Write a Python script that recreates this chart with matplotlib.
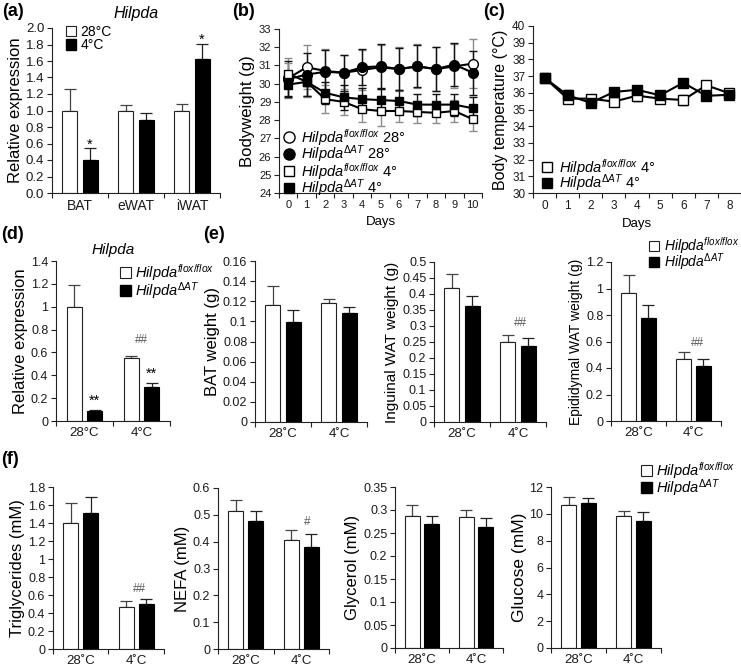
import matplotlib
matplotlib.use('Agg')
import matplotlib.pyplot as plt
from matplotlib.patches import Patch
from matplotlib.lines import Line2D
import numpy as np

plt.rcParams['font.family'] = ['Liberation Sans', 'DejaVu Sans']
plt.rcParams['mathtext.fontset'] = 'custom'
plt.rcParams['mathtext.rm'] = 'Liberation Sans'
plt.rcParams['mathtext.it'] = 'Liberation Sans:italic'
plt.rcParams['mathtext.bf'] = 'Liberation Sans:bold'

# ---- data ----
# (a) Hilpda expression, 28C vs 4C
tissues = ['BAT', 'eWAT', 'iWAT']
a_28 = [1.0, 1.0, 1.0]
a_28_err = [0.26, 0.07, 0.08]
a_4 = [0.40, 0.89, 1.62]
a_4_err = [0.14, 0.08, 0.19]
a_sig = ['*', '', '*']

# (b) bodyweight
days_b = list(range(11))
bw_flox28 = [30.3, 30.9, 30.7, 30.6, 30.75, 30.9, 30.8, 30.95, 30.8, 30.95, 31.1]
bw_dat28 = [30.25, 30.5, 30.65, 30.6, 30.9, 30.95, 30.8, 30.95, 30.8, 31.05, 30.6]
bw_flox4 = [30.55, 30.1, 29.15, 29.0, 28.6, 28.5, 28.5, 28.45, 28.4, 28.5, 28.05]
bw_dat4 = [29.95, 30.1, 29.5, 29.25, 29.15, 29.1, 29.05, 28.85, 28.85, 28.85, 28.65]
bw_flox28_err = [1.1, 1.2, 1.2, 1.0, 1.1, 1.2, 1.2, 1.2, 1.2, 1.2, 1.35]
bw_dat28_err = [1.0, 1.2, 1.2, 1.0, 1.0, 1.2, 1.15, 1.15, 1.2, 1.2, 1.2]
bw_flox4_err = [0.6, 0.85, 0.75, 0.7, 0.7, 0.8, 0.6, 0.6, 0.55, 0.6, 0.65]
bw_dat4_err = [0.6, 0.8, 0.6, 0.7, 0.6, 0.6, 0.6, 0.6, 0.6, 0.6, 0.6]

# (c) body temperature
days_c = list(range(9))
t_flox4 = [36.9, 35.65, 35.65, 35.47, 35.83, 35.65, 35.57, 36.45, 35.97]
t_dat4 = [36.9, 35.85, 35.4, 36.05, 36.18, 35.85, 36.6, 35.82, 35.88]
t_flox4_err = [0.1, 0.25, 0.1, 0.15, 0.35, 0.25, 0.3, 0.1, 0.1]
t_dat4_err = [0.1, 0.3, 0.1, 0.15, 0.1, 0.15, 0.1, 0.1, 0.1]

temps_d = ['28°C', '4°C']
temps = ['28˚C', '4˚C']

# (d) Hilpda expression
d_flox = [1.0, 0.55]
d_flox_err = [0.19, 0.02]
d_dat = [0.09, 0.30]
d_dat_err = [0.005, 0.03]

# (e) tissue weights
bat_flox = [0.116, 0.118]
bat_flox_err = [0.019, 0.004]
bat_dat = [0.099, 0.108]
bat_dat_err = [0.012, 0.006]
ing_flox = [0.42, 0.25]
ing_flox_err = [0.043, 0.022]
ing_dat = [0.362, 0.237]
ing_dat_err = [0.031, 0.027]
epi_flox = [0.965, 0.465]
epi_flox_err = [0.135, 0.055]
epi_dat = [0.775, 0.415]
epi_dat_err = [0.10, 0.05]

# (f) plasma
tg_flox = [1.40, 0.47]
tg_flox_err = [0.22, 0.065]
tg_dat = [1.51, 0.505]
tg_dat_err = [0.18, 0.05]
nefa_flox = [0.514, 0.408]
nefa_flox_err = [0.041, 0.037]
nefa_dat = [0.477, 0.381]
nefa_dat_err = [0.038, 0.049]
gly_flox = [0.288, 0.284]
gly_flox_err = [0.022, 0.017]
gly_dat = [0.269, 0.263]
gly_dat_err = [0.018, 0.019]
glu_flox = [10.67, 9.85]
glu_flox_err = [0.62, 0.35]
glu_dat = [10.82, 9.43]
glu_dat_err = [0.37, 0.67]

W, H = 741, 669
fig = plt.figure(figsize=(W / 100, H / 100), dpi=100)

FLOX = r'$\mathit{Hilpda}^{\mathit{flox/flox}}$'
DAT = r'$\mathit{Hilpda}^{\mathit{ΔAT}}$'
TXT = '#1a1a1a'


def box(x0, x1, ytop, ybot):
    return [x0 / W, 1 - ybot / H, (x1 - x0) / W, (ybot - ytop) / H]


def style(ax, fs):
    for s in ['top', 'right']:
        ax.spines[s].set_visible(False)
    for s in ['left', 'bottom']:
        ax.spines[s].set_linewidth(0.8)
        ax.spines[s].set_color('#222222')
    ax.tick_params(direction='out', length=3.5, width=0.8, color='#222222',
                   labelsize=fs, labelcolor=TXT, pad=2)


def fmt(v):
    return f'{round(v, 4):g}'


def yaxis(ax, lo, hi, step, fs, fixed=None):
    ticks = np.arange(lo, hi + step / 2, step)
    ax.set_ylim(lo, hi)
    ax.set_yticks(ticks)
    if fixed:
        ax.set_yticklabels([f'{t:.{fixed}f}' for t in ticks])
    else:
        ax.set_yticklabels([fmt(t) for t in ticks])


def bar_panel(rect, cats, v1, e1, v2, e2, ymax, step, ylabel, ylfs=11.5,
              tfs=8.5, fixed=None):
    ax = fig.add_axes(box(*rect))
    style(ax, tfs)
    x = np.arange(len(cats))
    off, bw = 0.18, 0.27
    ax.bar(x - off, v1, bw, color='white', edgecolor='#222222', lw=0.8, zorder=2)
    ax.bar(x + off, v2, bw, color='black', edgecolor='black', lw=0.8, zorder=2)
    ax.errorbar(x - off, v1, yerr=[np.zeros(len(v1)), e1], fmt='none',
                ecolor='#444444', elinewidth=0.9, capsize=4, capthick=0.9, zorder=1)
    ax.errorbar(x + off, v2, yerr=[np.zeros(len(v2)), e2], fmt='none',
                ecolor='#222222', elinewidth=0.9, capsize=4, capthick=0.9, zorder=1)
    ax.set_xlim(-0.5, len(cats) - 0.5)
    ax.set_xticks(np.arange(-0.5, len(cats), 1.0))
    ax.set_xticklabels([])
    ax.set_xticks(x, minor=True)
    ax.set_xticklabels(cats, minor=True, fontsize=tfs + 0.5, color=TXT)
    ax.tick_params(axis='x', which='minor', length=0, pad=4)
    yaxis(ax, 0, ymax, step, tfs, fixed)
    ax.set_ylabel(ylabel, fontsize=ylfs, labelpad=2)
    return ax


def hashes(ax, x, y, s):
    ax.text(x, y, s, ha='center', va='bottom', fontsize=8.5, color='#5a5a5a')


def stars(ax, x, y, s):
    ax.text(x, y, s, ha='center', va='bottom', fontsize=10.5, color='black')


bar_handles = [Patch(facecolor='white', edgecolor='#222222', lw=0.8),
               Patch(facecolor='black', edgecolor='black')]


def bar_legend(ax, x, y, labels, fs=10.5, spacing=0.15):
    ax.legend(bar_handles, labels, loc='upper left', frameon=False,
              bbox_to_anchor=(x / W, 1 - y / H), bbox_transform=fig.transFigure,
              borderpad=0, borderaxespad=0, handlelength=0.75, handleheight=0.75,
              handletextpad=0.3, labelspacing=spacing, fontsize=fs)


# ---- (a) ----
ax = bar_panel((52, 220, 28, 193), tissues, a_28, a_28_err, a_4, a_4_err,
               2.0, 0.2, 'Relative expression', ylfs=12, tfs=9.5, fixed=1)
ax.set_title('Hilpda', fontsize=11.5, style='italic', pad=7)
for i, s in enumerate(a_sig):
    if s:
        stars(ax, i + 0.18, a_4[i] + a_4_err[i] - 0.04, s)
bar_legend(ax, 66, 25, ['28°C', '4°C'], fs=10, spacing=-0.05)

# ---- (b) ----
ax = fig.add_axes(box(279, 482, 29, 193))
style(ax, 8)
series_b = [
    (bw_flox28, bw_flox28_err, 'o', 'white', '#8c8c8c'),
    (bw_dat28, bw_dat28_err, 'o', 'black', '#111111'),
    (bw_flox4, bw_flox4_err, 's', 'white', '#8c8c8c'),
    (bw_dat4, bw_dat4_err, 's', 'black', '#111111'),
]
for vals, err, mk, fc, ec in series_b:
    ax.errorbar(days_b, vals, yerr=err, fmt='none', ecolor=ec, elinewidth=1.0,
                capsize=3, capthick=1.0, zorder=1)
for vals, err, mk, fc, ec in series_b:
    ax.plot(days_b, vals, color='black', lw=1.5, marker=mk,
            ms=7 if mk == 'o' else 6, mfc=fc, mec='black', mew=1.0, zorder=3)
ax.set_xlim(-0.5, 10.5)
ax.set_xticks(np.arange(-0.5, 11, 1.0))
ax.set_xticklabels([])
ax.set_xticks(days_b, minor=True)
ax.set_xticklabels([str(d) for d in days_b], minor=True, fontsize=8, color=TXT)
ax.tick_params(axis='x', which='minor', length=0, pad=5)
yaxis(ax, 24, 33, 1, 8)
ax.set_ylabel('Bodyweight (g)', fontsize=12, labelpad=3)
ax.set_xlabel('Days', fontsize=9.5, labelpad=4)
lh = [Line2D([], [], ls='none', marker=m, ms=8 if m == 'o' else 7, mfc=c,
             mec='black', mew=1.0) for m, c in
      [('o', 'white'), ('o', 'black'), ('s', 'white'), ('s', 'black')]]
ax.legend(lh, [FLOX + ' 28°', DAT + ' 28°', FLOX + ' 4°', DAT + ' 4°'],
          loc='upper left', frameon=False, bbox_to_anchor=(282 / W, 1 - 127 / H),
          bbox_transform=fig.transFigure, borderpad=0, borderaxespad=0,
          handlelength=1.0, handletextpad=0.3, labelspacing=-0.3, fontsize=10.5)

# ---- (c) ----
ax = fig.add_axes(box(533, 741, 26, 193))
style(ax, 8.5)
for vals, err, fc in [(t_flox4, t_flox4_err, 'white'), (t_dat4, t_dat4_err, 'black')]:
    ax.errorbar(days_c, vals, yerr=err, fmt='none', ecolor='#222222',
                elinewidth=1.0, capsize=3, capthick=1.0, zorder=1)
for vals, fc in [(t_flox4, 'white'), (t_dat4, 'black')]:
    ax.plot(days_c, vals, color='black', lw=1.5, marker='s', ms=6.5, mfc=fc,
            mec='black', mew=1.0, zorder=3)
ax.set_xlim(-0.5, 8.5)
ax.set_xticks(np.arange(-0.5, 9, 1.0))
ax.set_xticklabels([])
ax.set_xticks(days_c, minor=True)
ax.set_xticklabels([str(d) for d in days_c], minor=True, fontsize=8.5, color=TXT)
ax.tick_params(axis='x', which='minor', length=0, pad=5)
yaxis(ax, 30, 40, 1, 8.5)
ax.set_ylabel('Body temperature (°C)', fontsize=11.5, labelpad=3)
ax.set_xlabel('Days', fontsize=9.5, labelpad=4)
lh = [Line2D([], [], ls='none', marker='s', ms=7, mfc=c, mec='black', mew=1.0)
      for c in ['white', 'black']]
ax.legend(lh, [FLOX + ' 4°', DAT + ' 4°'], loc='upper left', frameon=False,
          bbox_to_anchor=(540 / W, 1 - 157 / H), bbox_transform=fig.transFigure,
          borderpad=0, borderaxespad=0, handlelength=1.0, handletextpad=0.3,
          labelspacing=-0.4, fontsize=10.5)

# ---- (d) ----
ax = bar_panel((56, 170, 261, 421), temps_d, d_flox, d_flox_err, d_dat, d_dat_err,
               1.4, 0.2, 'Relative expression', ylfs=12, tfs=9)
ax.set_title('Hilpda', fontsize=11, style='italic', pad=5)
for i in range(2):
    stars(ax, i + 0.18, d_dat[i] + d_dat_err[i] + 0.02, '**')
hashes(ax, 1.0, 0.66, '##')
bar_legend(ax, 120, 262, [FLOX, DAT], fs=10.5, spacing=-0.2)

# ---- (e) ----
ax = bar_panel((255, 367, 261, 422), temps, bat_flox, bat_flox_err, bat_dat,
               bat_dat_err, 0.16, 0.02, 'BAT weight (g)', ylfs=12, tfs=9)
ax = bar_panel((434, 546, 262, 422), temps, ing_flox, ing_flox_err, ing_dat,
               ing_dat_err, 0.5, 0.05, 'Inguinal WAT weight (g)', ylfs=11, tfs=9)
hashes(ax, 1.05, 0.29, '##')
ax = bar_panel((611, 721, 262, 421), temps, epi_flox, epi_flox_err, epi_dat,
               epi_dat_err, 1.2, 0.2, 'Epididymal WAT weight (g)', ylfs=10, tfs=9)
hashes(ax, 1.08, 0.54, '##')
bar_legend(ax, 649, 235, [FLOX, DAT], fs=10, spacing=-0.35)

# ---- (f) ----
ax = bar_panel((53, 164, 487, 649), temps, tg_flox, tg_flox_err, tg_dat,
               tg_dat_err, 1.8, 0.2, 'Triglycerides (mM)', ylfs=12, tfs=9)
hashes(ax, 1.05, 0.6, '##')
ax = bar_panel((218, 329, 488, 649), temps, nefa_flox, nefa_flox_err, nefa_dat,
               nefa_dat_err, 0.6, 0.1, 'NEFA (mM)', ylfs=12, tfs=9)
hashes(ax, 1.1, 0.45, '#')
ax = bar_panel((395, 503, 487, 648), temps, gly_flox, gly_flox_err, gly_dat,
               gly_dat_err, 0.35, 0.05, 'Glycerol (mM)', ylfs=12, tfs=9)
ax = bar_panel((551, 661, 487, 648), temps, glu_flox, glu_flox_err, glu_dat,
               glu_dat_err, 12, 2, 'Glucose (mM)', ylfs=12.5, tfs=9)
bar_legend(ax, 641, 460, [FLOX, DAT], fs=10.5, spacing=-0.25)

# panel letters
for lab, x, y in [('(a)', 2, 3), ('(b)', 232, 3), ('(c)', 483, 3),
                  ('(d)', 1, 226), ('(e)', 203, 226), ('(f)', 1, 451)]:
    fig.text(x / W, 1 - y / H, lab, fontsize=13, fontweight='bold', va='top', ha='left')

fig.savefig('out.png', dpi=100)
